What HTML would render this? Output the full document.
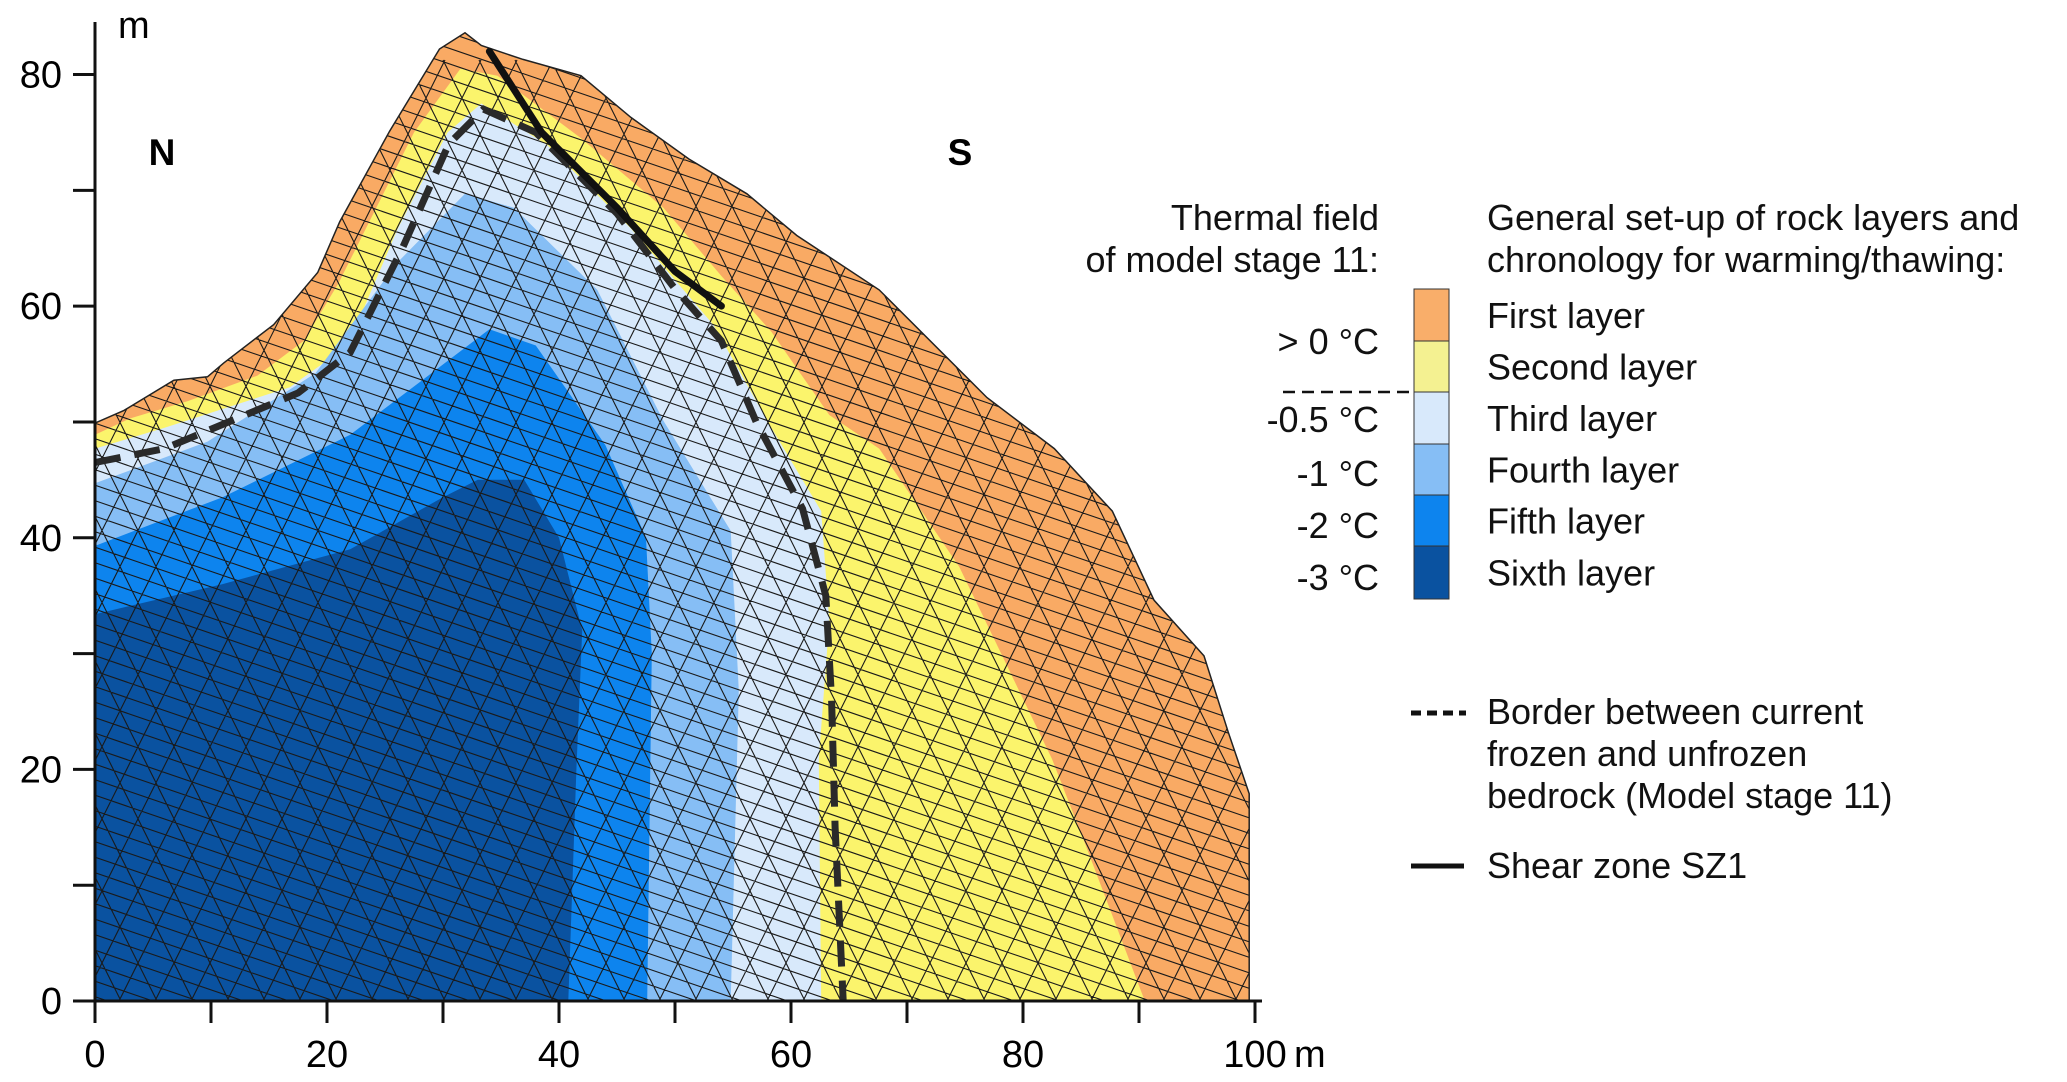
<!DOCTYPE html>
<html><head><meta charset="utf-8">
<style>
html,body{margin:0;padding:0;background:#fff;overflow:hidden;width:2067px;height:1082px;}
svg{display:block;font-family:"Liberation Sans",Arial,sans-serif;}
</style></head>
<body>
<svg id="chart" width="2067" height="1082" viewBox="0 0 2067 1082" xmlns="http://www.w3.org/2000/svg">
<defs><clipPath id="terrainClip"><path id="clipPath" d=""/></clipPath></defs>
<g id="layers" clip-path="url(#terrainClip)"></g>
<g id="mesh" clip-path="url(#terrainClip)" stroke="#1a1a1a" stroke-width="1.1" fill="none"></g>
<path id="outline" fill="none" stroke="#222" stroke-width="1.5"/>
<g id="lines"></g>
<g id="axes"></g>
<text x="162" y="165" font-size="37" font-weight="bold" text-anchor="middle">N</text>
<text x="960" y="165" font-size="37" font-weight="bold" text-anchor="middle">S</text>

<g font-size="36" fill="#111">
<text x="1379" y="230" text-anchor="end">Thermal field</text>
<text x="1379" y="272" text-anchor="end">of model stage 11:</text>
<text x="1487" y="230">General set-up of rock layers and</text>
<text x="1487" y="272">chronology for warming/thawing:</text>
<text x="1379" y="354" text-anchor="end">&gt; 0 °C</text>
<text x="1379" y="432" text-anchor="end">-0.5 °C</text>
<text x="1379" y="486" text-anchor="end">-1 °C</text>
<text x="1379" y="538" text-anchor="end">-2 °C</text>
<text x="1379" y="590" text-anchor="end">-3 °C</text>
<line x1="1283" y1="392" x2="1449" y2="392" stroke="#111" stroke-width="2.5" stroke-dasharray="12,7"/>
<g id="swatches"></g>
<line x1="1411" y1="713" x2="1466" y2="713" stroke="#111" stroke-width="5" stroke-dasharray="10,6"/>
<text x="1487" y="724">Border between current</text>
<text x="1487" y="766">frozen and unfrozen</text>
<text x="1487" y="808">bedrock (Model stage 11)</text>
<line x1="1411" y1="866" x2="1464" y2="866" stroke="#111" stroke-width="5"/>
<text x="1487" y="878">Shear zone SZ1</text>
</g>
</svg>
<script>
const terrain=[[0,49.9],[2.5,51],[6.8,53.6],[9.7,53.9],[11.1,55.1],[15.4,58.4],[19.2,62.9],[21.1,67.3],[25.4,75.1],[29.7,82.2],[31.9,83.6],[33.3,82.5],[36.9,81.3],[41.9,79.9],[46.2,76.3],[51.2,72.7],[56.2,69.7],[60.5,66.1],[67.6,61.4],[76.9,52.1],[82.7,47.7],[87.7,42.3],[91.3,34.6],[95.6,29.8],[97.7,23.2],[99.5,17.9],[99.5,0]];
const layerNames=["first","second","third","fourth","fifth","sixth"];
const layerColors=["#f9aa64","#fbf46c","#d8e9fb","#86bef5","#0d84ee","#0a52a0"];
const legendColors=["#f9ae6a","#f4f191","#d8e9fb","#86bef5","#0d84ee","#0a52a0"];
const top2=[[0,48.9],[3,50.3],[8,51.8],[14,54],[18,57],[21,62],[24,68],[27.5,75],[31.5,80.5],[34.7,79.9],[41.9,74.5],[49,68.5],[54,62.6],[58.3,57.8],[63.3,50.6],[67.6,47.7],[74.5,37.5],[78.5,29.2],[82.5,20.9],[85.3,13.7],[90.5,0]];
const top3=[[0,47.7],[6,49.5],[16.8,53],[21.8,56.6],[26.1,66.7],[30.4,75],[33.3,77.5],[39,73.9],[46.2,66.7],[53.3,58.4],[58.3,49.5],[62.6,42.3],[63.3,32.8],[62.4,20.9],[62.6,0]];
const top4=[[0,44.7],[9.7,48.3],[19,54.2],[26.1,63.8],[31.9,69.7],[36.1,68.5],[43.3,61.4],[49,50.1],[54.8,40.6],[55.5,26.8],[54.8,0]];
const top5=[[0,39.3],[11,43.5],[22,48.9],[29,54.2],[34,58],[38,56.6],[44,48],[47.5,40],[48,30],[47.6,0]];
const top6=[[0,33.4],[11,36],[22,39],[30,43.5],[33,45],[37,45],[40,40],[42,32],[41.5,20],[40.8,0]];
const borderLine=[[0,46.5],[6,47.7],[17.5,52.5],[22,56],[26.5,65],[30.5,74],[33.5,77],[38,75],[45,68],[50,61.5],[54,57],[57,50],[61,42.5],[63,35],[63.5,26],[63.8,15],[64.5,0]];
const shearZone=[[34,82],[38.5,75],[45,68.5],[50,63],[54,60]];
const xTicks=[0,20,40,60,80,100];
const yTicks=[0,20,40,60,80];

const X0=95,X1=1255,Y0=1001,Y80=74.5;
const sx=v=>X0+(X1-X0)*v/100;
const sy=v=>Y0-(Y0-Y80)*v/80;
const pts=a=>a.map(p=>sx(p[0]).toFixed(1)+","+sy(p[1]).toFixed(1)).join(" L");
const NS="http://www.w3.org/2000/svg";
function mk(tag,attrs,parent){const e=document.createElementNS(NS,tag);for(const k in attrs)e.setAttribute(k,attrs[k]);parent.appendChild(e);return e;}

const terrD="M"+pts([[0,0]].concat(terrain))+" Z";
document.getElementById('clipPath').setAttribute('d',terrD);
document.getElementById('outline').setAttribute('d',terrD);

const layersG=document.getElementById('layers');
const bounds=[null,top2,top3,top4,top5,top6];
bounds.forEach((b,i)=>{
  let d;
  if(!b) d=terrD; else d="M"+pts(b.concat([[0,0]]))+" Z";
  const e=mk('path',{d:d,fill:layerColors[i]},layersG);
  
  
});

const meshG=document.getElementById('mesh');
let md="";
for(let x=-1200;x<1400;x+=36){md+=`M${95+x},1001 L${95+x+470},60 `;md+=`M${95+x+470},1001 L${95+x},60 `;}
for(let y=-400;y<1100;y+=15.5){md+=`M90,${y} L1260,${y+400} `;}
const meshPath=mk('path',{d:md},meshG);



const linesG=document.getElementById('lines');
const bl=mk('path',{d:"M"+pts(borderLine),fill:"none",stroke:"#2a2a2a","stroke-width":7,"stroke-dasharray":"26,14"},linesG);


const sz=mk('path',{d:"M"+pts(shearZone),fill:"none",stroke:"#111","stroke-width":7,"stroke-linecap":"round"},linesG);



const ax=document.getElementById('axes');
mk('line',{x1:X0,y1:Y0,x2:X0,y2:22,stroke:"#111","stroke-width":3},ax);
mk('line',{x1:X0,y1:Y0,x2:1262,y2:Y0,stroke:"#111","stroke-width":3},ax);
for(let v=0;v<=80;v+=10){mk('line',{x1:X0-22,y1:sy(v),x2:X0,y2:sy(v),stroke:"#111","stroke-width":3},ax);}
for(let v=0;v<=100;v+=10){mk('line',{x1:sx(v),y1:Y0,x2:sx(v),y2:Y0+22,stroke:"#111","stroke-width":3},ax);}
yTicks.forEach(v=>{const t=mk('text',{x:62,y:sy(v)+13,"font-size":38,"text-anchor":"end"},ax);t.textContent=v;
 
 });
xTicks.forEach(v=>{const t=mk('text',{x:sx(v),y:1067,"font-size":38,"text-anchor":"middle"},ax);t.textContent=v;
 
 });
const xm=mk('text',{x:1294,y:1067,"font-size":38},ax);xm.textContent="m";


const ym=mk('text',{x:118,y:38,"font-size":38},ax);ym.textContent="m";



const sw=document.getElementById('swatches');
const swTop=[289,341,392,444,495,546,599];
layerColors.forEach((c,i)=>{const r=mk('rect',{x:1414,y:swTop[i],width:35,height:swTop[i+1]-swTop[i],fill:legendColors[i],stroke:"#333","stroke-width":1},sw);
 
 });
const swLabels=["First layer","Second layer","Third layer","Fourth layer","Fifth layer","Sixth layer"];
swLabels.forEach((s,i)=>{const t=mk('text',{x:1487,y:(swTop[i]+swTop[i+1])/2+13,"font-size":36,fill:"#111"},sw);t.textContent=s;
 
 });
</script>
</body></html>
